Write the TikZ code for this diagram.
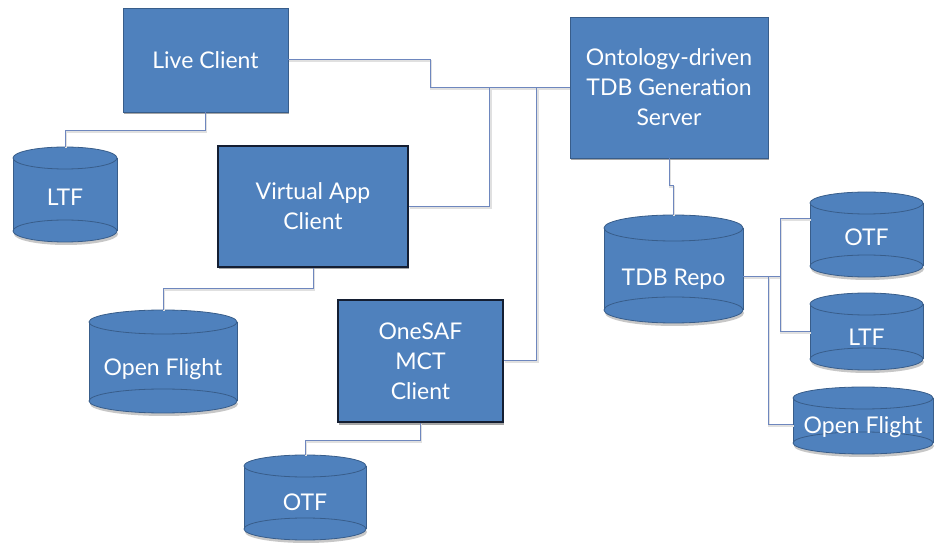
\documentclass[tikz,border=0pt]{standalone}
\usepackage{fontspec}
\setmainfont{Lato}
\usetikzlibrary{shadows}
\definecolor{boxblue}{RGB}{79,129,189}
\definecolor{boxedge}{RGB}{56,93,138}
\definecolor{darkedge}{RGB}{20,30,50}
\definecolor{linkcol}{RGB}{110,135,190}
\tikzset{
  boxbase/.style={rectangle, fill=boxblue, text=white, align=center, inner sep=0pt,
    font=\fontsize{23}{30}\selectfont,
    drop shadow={shadow xshift=1pt, shadow yshift=-2.5pt, opacity=0.35, fill=black}},
  lightbox/.style={boxbase, draw=boxedge, line width=0.8pt},
  darkbox/.style={boxbase, draw=darkedge, line width=1.8pt},
  dbfill/.style={fill=boxblue},
  dbline/.style={draw=boxedge, line width=0.8pt},
  dbtext/.style={rectangle, inner sep=0pt, text=white, align=center,
    font=\fontsize{23}{30}\selectfont},
  link/.style={draw=linkcol, line width=1pt,
    preaction={draw=black!12, line width=2pt, transform canvas={xshift=0.8pt,yshift=-1.5pt}}}
}
% #1 name, #2 cx, #3 top, #4 bottom, #5 half width, #6 ry, #7 text, #8 text drop
\newcommand\dbcyl[8]{%
  \fill[black,opacity=0.22] (#2+1,#4-#6+3) ellipse [x radius=#5, y radius=#6];
  \fill[dbfill] (#2,#4-#6) ellipse [x radius=#5, y radius=#6];
  \fill[dbfill] (#2-#5,#3+#6) rectangle (#2+#5,#4-#6);
  \draw[dbline] (#2-#5,#3+#6) -- (#2-#5,#4-#6) (#2+#5,#3+#6) -- (#2+#5,#4-#6);
  \draw[dbline] (#2,#4-#6) ellipse [x radius=#5, y radius=#6];
  \filldraw[dbfill,dbline] (#2,#3+#6) ellipse [x radius=#5, y radius=#6];
  \node[dbtext, minimum width={2*#5*1pt}, minimum height={(#4-#3)*1pt}] (#1) at (#2,{(#3+#4)/2}) {\raisebox{-#8pt}[\height][\depth]{#7}};
}
\begin{document}
\begin{tikzpicture}[x=1pt,y=-1pt]
\useasboundingbox (0,0) rectangle (935,545);
% boxes
\node[lightbox, minimum width=165pt, minimum height=104pt] (live) at (205.5,60) {Live Client};
\node[darkbox, minimum width=190pt, minimum height=121pt] (vapp) at (313,206.5) {Virtual App\\Client};
\node[lightbox, minimum width=198pt, minimum height=141pt] (onto) at (669,87.5) {Ontology-driven\\TDB Generation\\Server};
\node[darkbox, minimum width=165pt, minimum height=122pt] (onesaf) at (420.5,361) {OneSAF\\MCT\\Client};
% cylinders
\dbcyl{ltfa}{65}{147}{242}{52}{11}{LTF}{3}
\dbcyl{ofa}{163}{310}{413}{74}{12}{Open Flight}{8}
\dbcyl{otfa}{305}{455}{540}{61}{11}{OTF}{5}
\dbcyl{tdb}{673.5}{215}{323}{69.5}{13}{TDB Repo}{10}
\dbcyl{otfb}{866.5}{192}{277}{56.5}{11}{OTF}{3}
\dbcyl{ltfb}{866.5}{293}{370}{56.5}{11}{LTF}{6}
\dbcyl{ofb}{863}{387}{454}{70}{11}{Open Flight}{7}
% connectors
\coordinate (ja) at (780,277);
\coordinate (jb) at (768,277);
\draw[link] (live.east) -- ++(142,0) |- (onto.west);
\draw[link] (vapp.east) -- ++(81,0) |- (onto.west);
\draw[link] (onesaf.east) -- ++(33,0) |- (onto.west);
\draw[link] (live.south) -- ++(0,18) -| (ltfa.north);
\draw[link] (vapp.south) -- ++(0,21) -| (ofa.north);
\draw[link] (onesaf.south) -- ++(0,18) -| (otfa.north);
\draw[link] (onto.south) -- ++(0,27) -| (tdb.north);
\draw[link] ([yshift=-8pt]tdb.east) -- (ja);
\draw[link] (ja) |- ([yshift=16pt]otfb.west);
\draw[link] (ja) |- (ltfb.west);
\draw[link] (jb) |- ([yshift=-4pt]ofb.west);
\end{tikzpicture}
\end{document}
